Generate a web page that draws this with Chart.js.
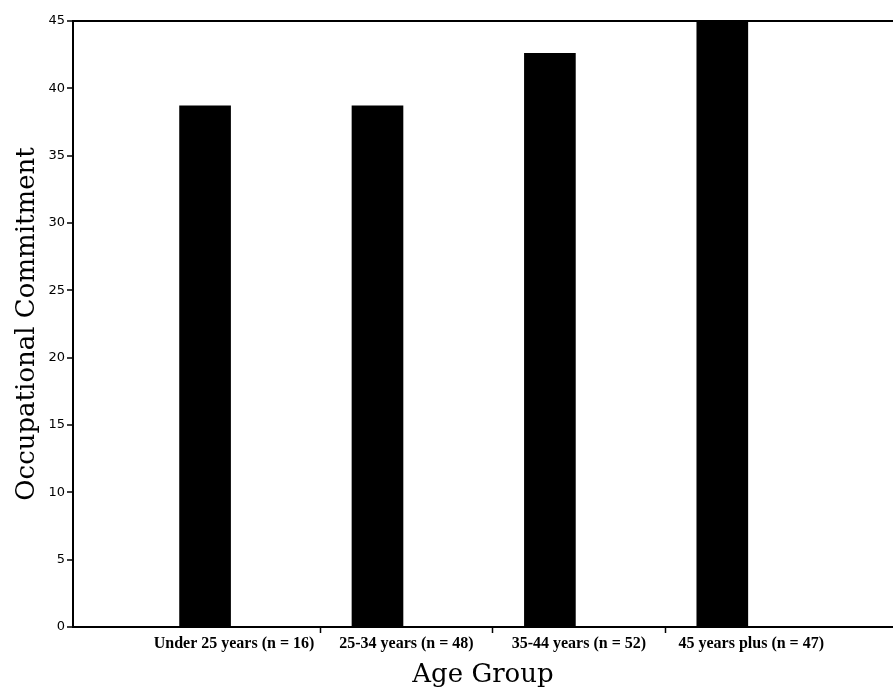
<!DOCTYPE html>
<html>
<head>
<meta charset="utf-8">
<script src="https://cdn.jsdelivr.net/npm/chart.js@4/dist/chart.umd.min.js"></script>
<style>
  body { margin: 0; background: #fff; }
</style>
</head>
<body>
<canvas id="ageChart" width="893" height="693"></canvas>
<script>
// Kategori umur dan nilai rata-rata komitmen
const categories = [
    'Under 25 years (n = 16)',
    '25-34 years (n = 48)',
    '35-44 years (n = 52)',
    '45 years plus (n = 47)'
];
const commitment = [38.7, 38.7, 42.6, 44.9];
const yTicks = [0, 5, 10, 15, 20, 25, 30, 35, 40, 45];

// bars sit at x = 1..4, labels a bit to the right of each bar
const labelShift = 0.168;

const config = {
    type: 'bar',
    data: {
        datasets: [{
            data: categories.map((c, i) => ({ x: i + 1, y: commitment[i] })),
            backgroundColor: '#000',
            borderWidth: 0,
            barThickness: 51
        }]
    },
    options: {
        responsive: false,
        animation: false,
        layout: { padding: { top: 21, right: 0, left: 0, bottom: 0 } },
        plugins: {
            legend: { display: false },
            tooltip: { enabled: false }
        },
        scales: {
            x: {
                type: 'linear',
                min: 0.234,
                max: 4.99,
                offset: false,
                afterBuildTicks: (scale) => {
                    scale.ticks = categories.map((c, i) => ({ value: i + 1 + labelShift }));
                },
                afterFit: (scale) => { scale.height = 66; },
                border: { color: '#000', width: 2 },
                grid: {
                    offset: true,
                    drawOnChartArea: false,
                    tickLength: 6,
                    tickWidth: 1.5,
                    tickColor: (c) => (c.index >= 1 && c.index <= 3) ? '#000' : 'rgba(0,0,0,0)'
                },
                ticks: {
                    autoSkip: false,
                    maxRotation: 0,
                    padding: 1,
                    color: '#000',
                    font: { family: 'Liberation Serif', size: 16, weight: 'bold' },
                    callback: (v, i) => categories[i]
                },
                title: {
                    display: true,
                    text: 'Age Group',
                    color: '#000',
                    font: { family: 'DejaVu Serif', size: 26, lineHeight: 1.2 },
                    padding: { top: 0, bottom: 2 }
                }
            },
            y: {
                min: 0,
                max: 45,
                afterBuildTicks: (scale) => {
                    scale.ticks = yTicks.map(v => ({ value: v }));
                },
                afterFit: (scale) => { scale.width = 73; },
                border: { color: '#000', width: 2 },
                grid: {
                    lineWidth: 2,
                    color: (c) => c.tick && c.tick.value === 45 ? '#000' : 'rgba(0,0,0,0)',
                    tickColor: '#000',
                    tickWidth: 1.5,
                    tickLength: 6
                },
                ticks: {
                    padding: 2,
                    color: '#000',
                    font: { family: 'DejaVu Sans', size: 13 }
                },
                title: {
                    display: true,
                    text: 'Occupational Commitment',
                    color: '#000',
                    font: { family: 'DejaVu Serif', size: 26, lineHeight: 1.2 },
                    padding: { top: 12, bottom: 0 }
                }
            }
        }
    }
};

var ageChart = new Chart(document.getElementById('ageChart'), config);
</script>
</body>
</html>
